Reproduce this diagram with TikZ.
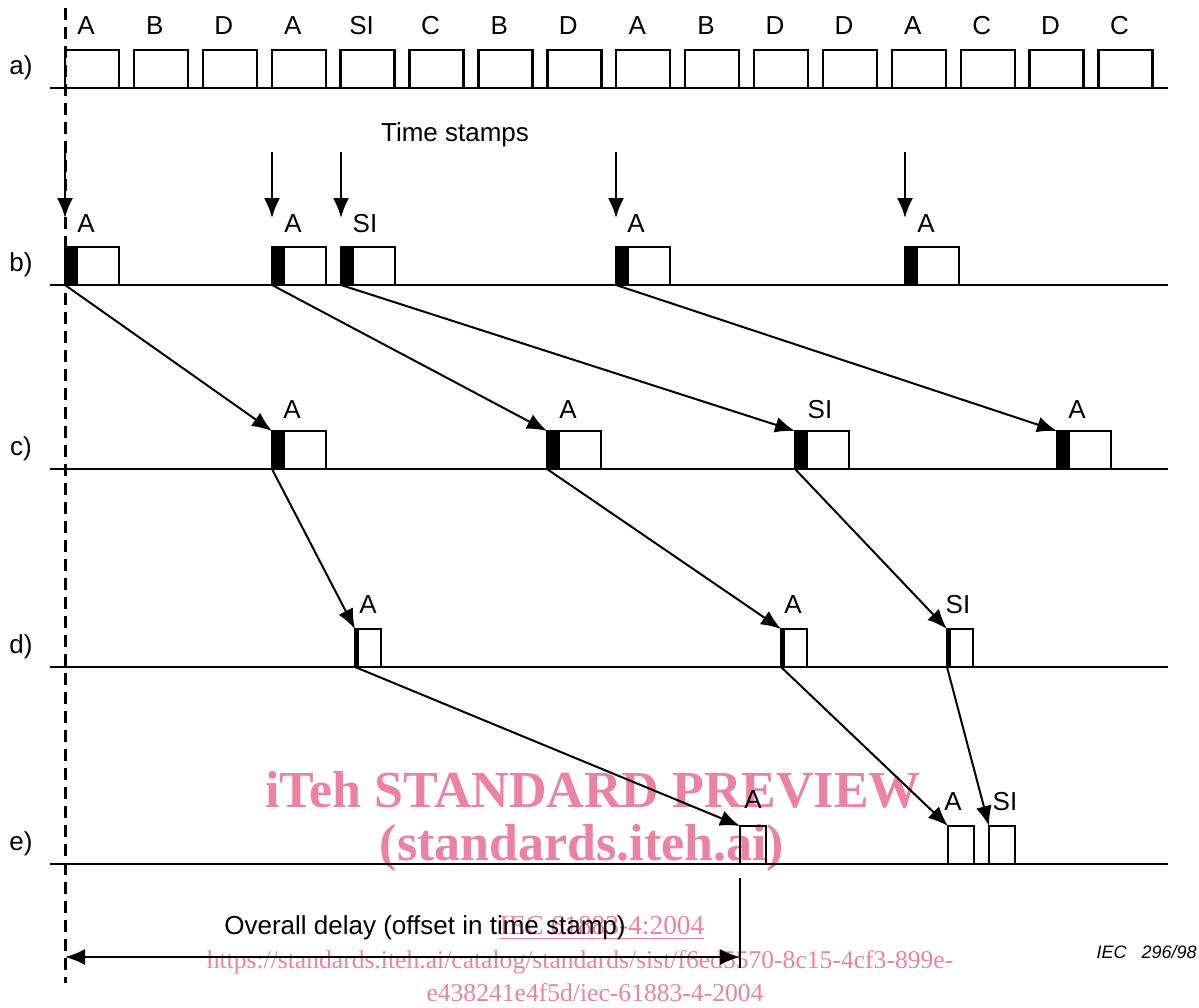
\documentclass[tikz,border=0pt]{standalone}
\usepackage{fontspec}
\setmainfont{Liberation Sans}
\newfontfamily\wmfont{Liberation Serif}
\usetikzlibrary{arrows.meta,calc}
\definecolor{wmpink}{RGB}{236,130,162}
\begin{document}
\begin{tikzpicture}[x=0.5pt,y=-0.5pt,
 frame/.style={draw, line width=1.2pt, inner sep=0pt, outer sep=0pt, anchor=south west, minimum width=27pt, minimum height=19pt},
 tagged/.style={frame, path picture={\fill (path picture bounding box.south west) rectangle ([xshift=#1]path picture bounding box.north west);}},
 tagged/.default=6.5pt,
 lbl/.style={font=\fontsize{13}{15}\selectfont, inner sep=0pt},
 base/.style={line width=1.1pt},
 tip/.style={},
 conn/.style={line width=1pt, -{Latex[length=10pt,width=8pt]}},
 wm/.style={text=wmpink, inner sep=0pt},
]
\useasboundingbox (0,0) rectangle (1199,1007);

% baselines
\foreach \yy/\n in {88/a,285/b,469/c,667/d,864/e}{
  \draw[base] (50,\yy) -- (1168,\yy);
  \node[lbl] (row\n) at (21,\yy-20) {\n)};
}

% dashed reference line
\draw[line width=1.5pt, dash pattern=on 6pt off 3.5pt] (65,8) -- (65,983);

% row a
\foreach \t [count=\i from 0] in {A,B,D,A,SI,C,B,D,A,B,D,D,A,C,D,C}{
  \node[frame] (a\i) at ({65+68.9*\i},88) {};
  \node[lbl] (la\i) at ({86+68.9*\i},26) {\t};
}

% row b
\node[tagged] (b1) at (65,285) {};
\node[tagged] (b2) at (272,285) {};
\node[tagged] (b3) at (341,285) {};
\node[tagged] (b4) at (616,285) {};
\node[tagged] (b5) at (905,285) {};
\node[lbl] (lb1) at (86,224) {A};
\node[lbl] (lb2) at (293,224) {A};
\node[lbl] (lb3) at (365,224) {SI};
\node[lbl] (lb4) at (636,224) {A};
\node[lbl] (lb5) at (926,224) {A};

% time stamps
\node[lbl] (tstext) at (455,135) {Time stamps};
\foreach \k in {1,...,5}{
  \coordinate (ts\k) at ($(b\k.north west)+(0,-95)$);
  \draw[conn] (ts\k) -- ([yshift=14.5pt]b\k.north west);
}

% row c
\node[tagged] (c1) at (272,469) {};
\node[tagged] (c2) at (547,469) {};
\node[tagged] (c3) at (795,469) {};
\node[tagged] (c4) at (1057,469) {};
\node[lbl] (lc1) at (292,410) {A};
\node[lbl] (lc2) at (568,410) {A};
\node[lbl] (lc3) at (820,410) {SI};
\node[lbl] (lc4) at (1077,410) {A};

% row d
\node[tagged=2pt, minimum width=13pt] (d1) at (355,667) {};
\node[tagged=2pt, minimum width=13pt] (d2) at (781,667) {};
\node[tagged=2pt, minimum width=13pt] (d3) at (947,667) {};
\node[lbl] (ld1) at (368,605) {A};
\node[lbl] (ld2) at (793,605) {A};
\node[lbl] (ld3) at (958,605) {SI};

% row e
\node[frame, minimum width=13pt] (e1) at (740,864) {};
\node[frame, minimum width=13pt] (e2) at (948,864) {};
\node[frame, minimum width=13pt] (e3) at (989,864) {};
\node[lbl] (le1) at (753,800) {A};
\node[lbl] (le2) at (953,802) {A};
\node[lbl] (le3) at (1005,802) {SI};

% connectors
\draw[conn] (b1.south west) -- (c1.north west);
\draw[conn] (b2.south west) -- (c2.north west);
\draw[conn] (b3.south west) -- (c3.north west);
\draw[conn] (b4.south west) -- (c4.north west);
\draw[conn] (c1.south west) -- (d1.north west);
\draw[conn] (c2.south west) -- (d2.north west);
\draw[conn] (c3.south west) -- (d3.north west);
\draw[conn] (d1.south west) -- (e1.north west);
\draw[conn] (d2.south west) -- (e2.north west);
\draw[conn] (d3.south west) -- (e3.north west);

% overall delay
\coordinate (vtop) at (740,878);
\coordinate (vbot) at (740,968);
\draw[line width=1pt] (vtop) -- (vbot);
\coordinate (dl) at (65,957);
\coordinate (dr) at (740,957);
\draw[line width=1pt, {Latex[length=10pt,width=8pt]}-{Latex[length=10pt,width=8pt]}] (dl) -- (dr);
\node[lbl] (delay) at (425,928) {Overall delay (offset in time stamp)};
\node[inner sep=0pt, anchor=east, font=\itshape\fontsize{9}{11}\selectfont] (iec) at (1197,952) {IEC\ \ \ 296/98};

% watermark
\begin{scope}[blend mode=multiply]
\node[wm, font=\wmfont\bfseries\fontsize{26}{30}\selectfont] (wm1) at (593,790) {iTeh STANDARD PREVIEW};
\node[wm, font=\wmfont\bfseries\fontsize{26}{30}\selectfont] (wm2) at (582,848) {(standards.iteh.ai)};
\node[wm, font=\wmfont\fontsize{13.7}{16}\selectfont] (wm3) at (602,928) {\underline{IEC 61883-4:2004}};
\node[wm, font=\wmfont\fontsize{12.8}{15}\selectfont] (wm4) at (580,962) {https://standards.iteh.ai/catalog/standards/sist/f6ed5570-8c15-4cf3-899e-};
\node[wm, font=\wmfont\fontsize{12.8}{15}\selectfont] (wm5) at (595,993) {e438241e4f5d/iec-61883-4-2004};
\end{scope}
\end{tikzpicture}
\end{document}
